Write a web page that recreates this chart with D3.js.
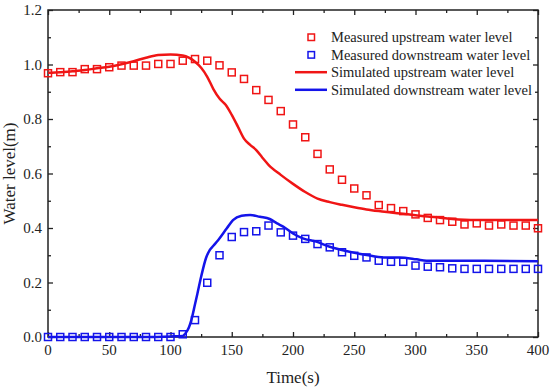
<!DOCTYPE html>
<html>
<head>
<meta charset="utf-8">
<script src="https://cdn.jsdelivr.net/npm/d3@7"></script>
<style>
  body { margin: 0; background: #fff; }
  svg text { font-family: "Liberation Serif", "Times New Roman", serif; fill: #222; }
</style>
</head>
<body>
<script>
// measured data, one point every 10 s
var measTime = [0, 10, 20, 30, 40, 50, 60, 70, 80, 90, 100, 110, 120, 130, 140, 150, 160, 170, 180, 190, 200,
  210, 220, 230, 240, 250, 260, 270, 280, 290, 300, 310, 320, 330, 340, 350, 360, 370, 380, 390, 400];
var measUp = [0.968, 0.972, 0.972, 0.983, 0.983, 0.990, 0.996, 0.996, 0.996, 1.002, 1.002, 1.014, 1.020, 1.014,
  0.997, 0.971, 0.947, 0.906, 0.870, 0.829, 0.780, 0.733, 0.672, 0.615, 0.577, 0.545, 0.520, 0.484, 0.473,
  0.462, 0.450, 0.437, 0.429, 0.423, 0.413, 0.417, 0.409, 0.413, 0.409, 0.409, 0.399];
var measDown = [0.0, 0.0, 0.0, 0.0, 0.0, 0.0, 0.0, 0.0, 0.0, 0.0, 0.0, 0.010, 0.062, 0.199, 0.300, 0.367, 0.385,
  0.388, 0.409, 0.384, 0.372, 0.360, 0.341, 0.329, 0.311, 0.298, 0.292, 0.280, 0.276, 0.276, 0.262, 0.258,
  0.256, 0.252, 0.250, 0.250, 0.250, 0.250, 0.250, 0.250, 0.250];

// simulated curves
var simUpTime = [0, 10, 20, 30, 40, 50, 60, 70, 80, 90, 100, 110, 115, 120, 125, 130, 135, 140, 145, 150, 155,
  160, 165, 170, 175, 180, 190, 200, 210, 220, 230, 240, 250, 260, 270, 280, 290, 300, 310, 320, 330, 340,
  350, 360, 380, 400];
var simUp = [0.970, 0.972, 0.975, 0.980, 0.986, 0.992, 1.001, 1.012, 1.025, 1.035, 1.037, 1.033, 1.025, 1.010,
  0.988, 0.955, 0.910, 0.875, 0.852, 0.815, 0.772, 0.728, 0.705, 0.686, 0.658, 0.632, 0.595, 0.562, 0.532,
  0.508, 0.495, 0.485, 0.476, 0.468, 0.462, 0.457, 0.452, 0.447, 0.442, 0.438, 0.433, 0.430, 0.429, 0.429,
  0.429, 0.429];
var simDownTime = [0, 20, 40, 60, 80, 100, 110, 112, 115, 117, 120, 122, 125, 129, 132, 135, 139, 146, 151, 158,
  165, 173, 181, 187, 192, 200, 208, 219, 230, 246, 260, 274, 287, 301, 309, 350, 400];
var simDown = [0.0, 0.0, 0.0, 0.0, 0.0, 0.002, 0.004, 0.012, 0.035, 0.062, 0.120, 0.160, 0.221, 0.290, 0.319,
  0.335, 0.356, 0.399, 0.429, 0.445, 0.448, 0.441, 0.433, 0.417, 0.405, 0.380, 0.362, 0.350, 0.331, 0.313,
  0.301, 0.292, 0.292, 0.285, 0.280, 0.280, 0.278];

var xTicks = [0, 50, 100, 150, 200, 250, 300, 350, 400];
var yTicks = [0.0, 0.2, 0.4, 0.6, 0.8, 1.0, 1.2];
var legendLabels = ['Measured upstream water level', 'Measured downstream water level',
  'Simulated upstream water level', 'Simulated downstream water level'];

var red = '#f01515', blue = '#1414ea';

var W = 550, H = 391;
var margins = {top: 10, right: 12, bottom: 54, left: 48};
var width = W - margins.left - margins.right;
var height = H - margins.top - margins.bottom;

var xScale = d3.scaleLinear().domain([0, 400]).range([0, width]);
var yScale = d3.scaleLinear().domain([0, 1.2]).range([height, 0]);

var svg = d3.select('body').append('svg')
    .attr('width', W)
    .attr('height', H)
  .append('g')
    .attr('transform', `translate(${margins.left}, ${margins.top})`);

// minor ticks on every side, drawn first
var xMinor = d3.range(25, 400, 50);
var yMinor = d3.range(1, 12, 2).map(function(d){ return d / 10; });

function tickAxis(axisFn, scale, vals, len) {
  return axisFn(scale).tickValues(vals).tickSize(-len).tickFormat('');
}

var axes = [
  {fn: d3.axisBottom, s: xScale, t: `translate(0, ${height})`},
  {fn: d3.axisTop, s: xScale, t: 'translate(0, 0)'},
  {fn: d3.axisLeft, s: yScale, t: 'translate(0, 0)'},
  {fn: d3.axisRight, s: yScale, t: `translate(${width}, 0)`}
];
axes.forEach(function(a) {
  var isX = a.s === xScale;
  svg.append('g').attr('transform', a.t)
      .call(tickAxis(a.fn, a.s, isX ? xMinor : yMinor, 3))
      .call(function(g){ g.select('.domain').remove(); })
      .selectAll('line').attr('stroke', '#222').attr('stroke-width', 1.3);
  svg.append('g').attr('transform', a.t)
      .call(tickAxis(a.fn, a.s, isX ? xTicks : yTicks, 5))
      .call(function(g){ g.select('.domain').remove(); })
      .selectAll('line').attr('stroke', '#222').attr('stroke-width', 1.3);
});

// tick labels
svg.append('g').selectAll('text')
    .data(xTicks)
    .enter()
  .append('text')
    .attr('x', function(d){ return xScale(d); })
    .attr('y', height + 18)
    .style('text-anchor', 'middle')
    .style('font-size', '15px')
    .text(function(d){ return d; });

svg.append('g').selectAll('text')
    .data(yTicks)
    .enter()
  .append('text')
    .attr('x', -6)
    .attr('y', function(d){ return yScale(d) + 5; })
    .style('text-anchor', 'end')
    .style('font-size', '15px')
    .text(function(d){ return d.toFixed(1); });

// frame
svg.append('rect')
    .attr('width', width)
    .attr('height', height)
    .attr('fill', 'none')
    .attr('stroke', '#222')
    .attr('stroke-width', 1.5);

// simulated lines
var line = d3.line()
    .x(function(d){ return xScale(d[0]); })
    .y(function(d){ return yScale(d[1]); })
    .curve(d3.curveMonotoneX);

svg.append('path')
    .datum(d3.zip(simUpTime, simUp))
    .attr('d', line)
    .attr('fill', 'none')
    .attr('stroke', red)
    .attr('stroke-width', 2.5);

svg.append('path')
    .datum(d3.zip(simDownTime, simDown))
    .attr('d', line)
    .attr('fill', 'none')
    .attr('stroke', blue)
    .attr('stroke-width', 2.5);

// measured squares
var sq = 7;
function squares(vals, color) {
  svg.append('g').selectAll('rect')
      .data(d3.zip(measTime, vals))
      .enter()
    .append('rect')
      .attr('x', function(d){ return xScale(d[0]) - sq / 2; })
      .attr('y', function(d){ return yScale(d[1]) - sq / 2; })
      .attr('width', sq)
      .attr('height', sq)
      .attr('fill', 'none')
      .attr('stroke', color)
      .attr('stroke-width', 1.5);
}
squares(measUp, red);
squares(measDown, blue);

// legend
var legend = svg.append('g').attr('transform', 'translate(247, 0)');
var colors = [red, blue, red, blue];
legendLabels.forEach(function(label, i) {
  var y = 27 + i * 17.6;
  if (i < 2) {
    legend.append('rect')
        .attr('x', 13)
        .attr('y', y - 3)
        .attr('width', 6.5)
        .attr('height', 6.5)
        .attr('fill', 'none')
        .attr('stroke', colors[i])
        .attr('stroke-width', 1.5);
  } else {
    legend.append('line')
        .attr('x1', 0).attr('x2', 32)
        .attr('y1', y).attr('y2', y)
        .attr('stroke', colors[i])
        .attr('stroke-width', 2.5);
  }
  legend.append('text')
      .attr('x', 36)
      .attr('y', y + 5)
      .style('font-size', '14.5px')
      .text(label);
});

// axis titles
svg.append('text')
    .attr('x', width / 2)
    .attr('y', height + 46)
    .style('text-anchor', 'middle')
    .style('font-size', '17px')
    .text('Time(s)');

svg.append('text')
    .attr('transform', 'rotate(-90)')
    .attr('x', -height / 2)
    .attr('y', -33)
    .style('text-anchor', 'middle')
    .style('font-size', '17px')
    .text('Water level(m)');
</script>
</body>
</html>
